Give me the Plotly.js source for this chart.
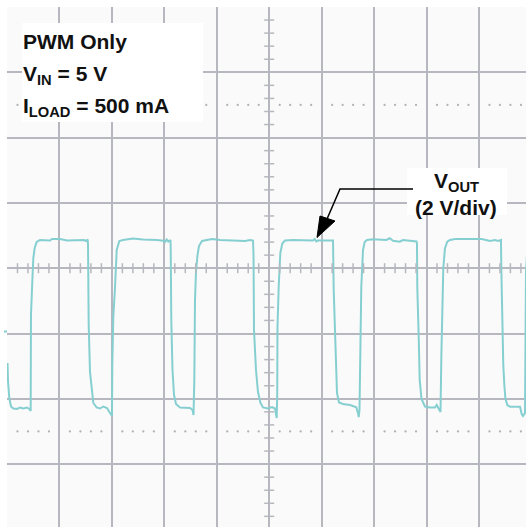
<!DOCTYPE html>
<html><head><meta charset="utf-8">
<script src="https://cdn.plot.ly/plotly-3.0.1.min.js"></script>
<style>html,body{margin:0;padding:0;background:#fff}#chart{width:526px;height:527px}</style>
</head><body><div id="chart"></div>
<script>
// Time in graticule divisions (0 = centre line); VOUT in divisions (2 V/div)
const timeDiv = [
-4.99,-4.98,-4.956,-4.924,-4.88,-4.809,-4.752,-4.689,-4.619,-4.575,-4.548,
-4.543,-4.518,-4.498,-4.472,-4.434,-4.371,-4.18,-4.142,-3.989,-3.856,-3.665,-3.532,-3.494,-3.461,
-3.455,-3.442,-3.417,-3.384,-3.354,-3.289,-3.227,-3.164,-3.093,-3.036,-3.007,
-2.998,-2.992,-2.973,-2.94,-2.908,-2.858,-2.788,-2.597,-2.407,-2.14,-2.019,-1.987,-1.955,-1.924,-1.882,
-1.878,-1.867,-1.844,-1.815,-1.777,-1.701,-1.51,-1.462,-1.443,
-1.428,-1.415,-1.396,-1.367,-1.339,-1.281,-1.205,-1.09,-0.938,-0.652,-0.461,-0.366,-0.309,
-0.299,-0.29,-0.252,-0.214,-0.166,-0.118,-0.023,0.053,0.111,0.13,0.143,
0.153,0.158,0.181,0.212,0.25,0.301,0.454,0.835,0.868,0.898,0.931,1.159,1.217,
1.23,1.249,1.268,1.293,1.331,1.407,1.541,1.598,1.661,1.693,1.707,
1.722,1.737,1.756,1.789,1.821,1.865,1.979,2.233,2.298,2.361,2.489,2.551,2.775,2.809,
2.818,2.824,2.851,2.87,2.904,2.971,3.066,3.162,3.194,3.225,3.267,
3.282,3.295,3.32,3.352,3.396,3.448,3.543,3.638,3.766,3.924,4.052,4.21,4.306,4.368,4.42,
4.426,4.44,4.464,4.484,4.503,4.541,4.592,4.72,4.783,4.815,4.84,
4.878,4.884,4.897,4.916
];
const voutDiv = [
-1.452,-1.743,-1.988,-2.118,-2.149,-2.156,-2.133,-2.149,-2.133,-2.156,-2.187,
-0.717,-0.211,0.156,0.309,0.401,0.432,0.424,0.447,0.447,0.424,0.424,0.432,0.417,0.44,
0.355,-0.87,-1.59,-1.896,-2.064,-2.133,-2.149,-2.118,-2.141,-2.217,-2.263,
-2.263,-1.482,-0.747,-0.288,0.279,0.417,0.432,0.455,0.44,0.432,0.421,0.401,0.44,0.406,0.432,
0.279,-0.793,-1.559,-1.942,-2.08,-2.133,-2.141,-2.172,-2.248,
-1.712,-0.487,-0.058,0.202,0.34,0.417,0.432,0.447,0.432,0.424,0.417,0.432,0.424,
0.202,-0.946,-1.559,-1.896,-2.064,-2.133,-2.149,-2.126,-2.149,-2.217,-2.294,
-1.942,-0.9,-0.288,0.233,0.378,0.424,0.432,0.424,0.447,0.409,0.424,0.424,0.424,
-0.334,-0.946,-1.559,-1.911,-2.057,-2.08,-2.095,-2.11,-2.13,-2.217,-2.279,
-2.172,-0.9,-0.288,0.279,0.401,0.432,0.443,0.432,0.458,0.421,0.406,0.432,0.421,0.409,
0.38,-0.288,-1.054,-1.712,-2.003,-2.118,-2.133,-2.133,-2.095,-2.141,-2.202,
-1.375,-0.671,0.003,0.305,0.406,0.432,0.447,0.447,0.447,0.458,0.447,0.417,0.432,0.417,0.432,
0.003,-0.87,-1.482,-1.789,-1.988,-2.095,-2.121,-2.121,-2.121,-2.233,-2.263,
-2.217,-1.099,-0.058,0.202
];
const infoLines = ['PWM Only', 'V<sub>IN</sub> = 5 V', 'I<sub>LOAD</sub> = 500 mA'];
const traceLabel = ['V<sub>OUT</sub>', '(2 V/div)'];
const groundLevelDiv = -0.97;

// ---- layout geometry (graticule) ----
const W = 526, H = 527, L = 7, T = 7;
const pxX = 52.44, pxY = 65.3;
const xRange = [-5, -5 + (W - L) / pxX];
const yRange = [4 - (H - T) / pxY, 4];
const X = px => -5 + (px - L) / pxX;
const Y = py => 4 - (py - T) / pxY;
const GRID = '#b7b7bf';
const FONT = 'Liberation Sans, Arial, Helvetica, sans-serif';

const shapes = [];
// minor ticks on centre cross
for (let i = -25; i <= 25; i++) {
  if (i % 5 === 0) continue;
  const t = i * 0.2;
  shapes.push({type:'line', xref:'x', yref:'y', x0:t, x1:t, y0:-5/pxY, y1:5/pxY, line:{color:GRID, width:1.5}});
}
for (let j = -20; j <= 20; j++) {
  if (j % 5 === 0) continue;
  const v = j * 0.2;
  shapes.push({type:'line', xref:'x', yref:'y', x0:-5/pxX, x1:5/pxX, y0:v, y1:v, line:{color:GRID, width:1.5}});
}
// dotted reference lines
const dotX = [], dotY = [];
for (let i = -25; i < 25; i++) {
  if (i % 5 === 0) continue;
  dotX.push(i * 0.2, i * 0.2); dotY.push(2.5, -2.5);
}
// ground marker
shapes.push({type:'line', xref:'paper', yref:'paper', x0:-3/(W-L), x1:0, y0:(H - 331.5)/(H-T), y1:(H - 331.5)/(H-T), line:{color:'#86cfd1', width:2}});
// label boxes
shapes.push({type:'rect', xref:'x', yref:'y', x0:X(22), x1:X(203), y0:Y(122), y1:Y(23), fillcolor:'#ffffff', line:{width:0}, layer:'above'});
shapes.push({type:'rect', xref:'x', yref:'y', x0:X(407), x1:X(507), y0:Y(215), y1:Y(168), fillcolor:'#ffffff', line:{width:0}, layer:'above'});
// arrow
shapes.push({type:'path', xref:'x', yref:'y', path:`M ${X(413)} ${Y(189)} L ${X(340)} ${Y(189)} L ${X(327)} ${Y(219)}`, line:{color:'#000', width:1.5}});
shapes.push({type:'path', xref:'x', yref:'y', path:`M ${X(317)} ${Y(237.5)} L ${X(320)} ${Y(216)} L ${X(335)} ${Y(221)} Z`, fillcolor:'#000', line:{color:'#000', width:1}});

const annotations = [];
const infoY = [41, 75, 107];
infoLines.forEach((s, k) => annotations.push({xref:'x', yref:'y', x:X(21), y:Y(infoY[k]), text:'<b>' + s + '</b>', showarrow:false, xanchor:'left', yanchor:'middle', font:{family:FONT, size:21, color:'#111'}}));
const lblY = [182, 207];
traceLabel.forEach((s, k) => annotations.push({xref:'x', yref:'y', x:X(456), y:Y(lblY[k]), text:'<b>' + s + '</b>', showarrow:false, xanchor:'center', yanchor:'middle', font:{family:FONT, size:21, color:'#111'}}));

const traces = [
  {x: dotX, y: dotY, mode:'markers', marker:{size:2.2, color:'#b0b0b6'}, hoverinfo:'skip'},
  {x: timeDiv, y: voutDiv, mode:'lines', line:{color:'#86cfd1', width:2}, hoverinfo:'skip'}
];
const ax = {showgrid:true, gridcolor:GRID, gridwidth:2, zeroline:true, zerolinecolor:GRID, zerolinewidth:2, dtick:1, tick0:0, showticklabels:false, ticks:'', showline:false, fixedrange:true};
const layout = {
  width: W, height: H, margin:{l:L, r:0, t:T, b:0, pad:0},
  paper_bgcolor:'#ffffff', plot_bgcolor:'#fafafa', showlegend:false,
  xaxis: Object.assign({range:xRange}, ax),
  yaxis: Object.assign({range:yRange}, ax),
  shapes, annotations
};
Plotly.newPlot('chart', traces, layout, {staticPlot:true, displayModeBar:false});
</script></body></html>
